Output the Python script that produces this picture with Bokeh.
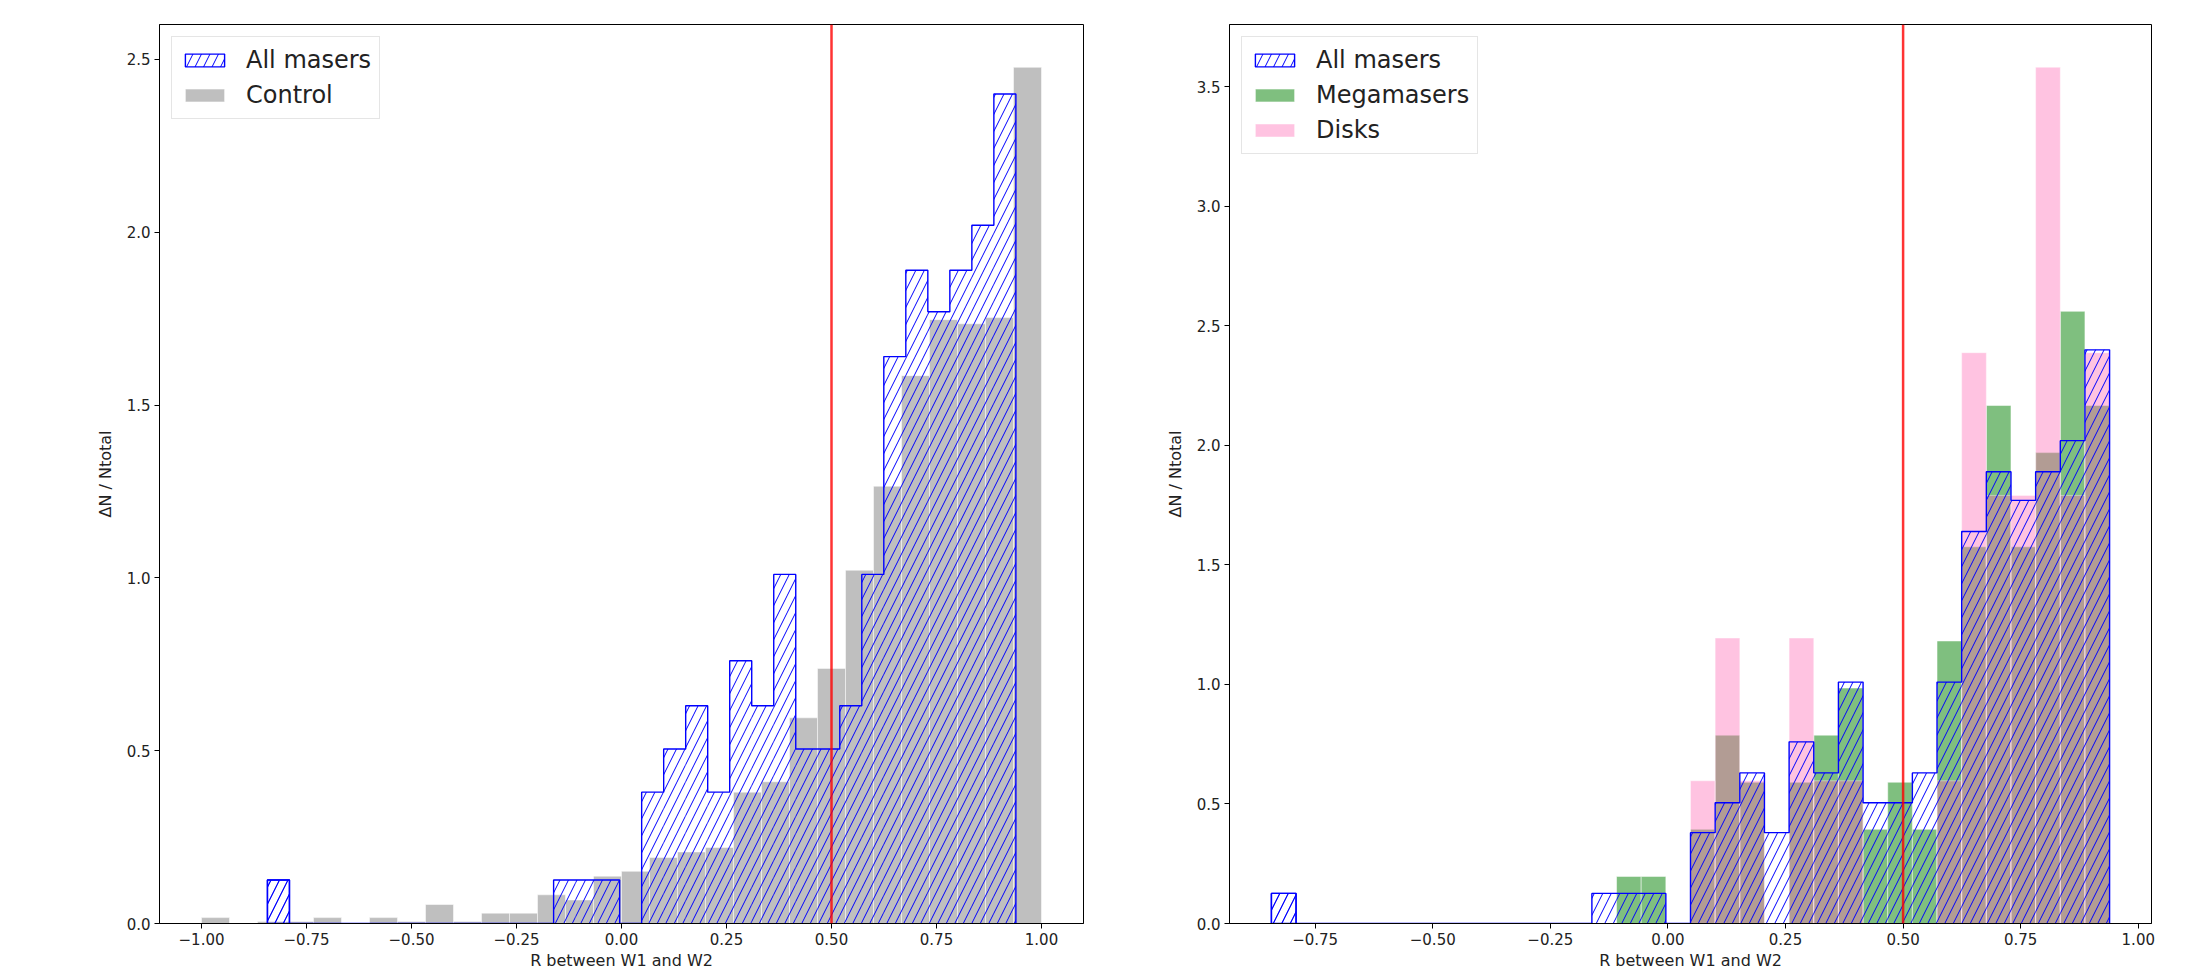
import numpy as np
from bokeh.plotting import figure
from bokeh.models import Range1d, FixedTicker, Span, Legend, LegendItem
from bokeh.layouts import row
from bokeh.embed import file_html
from bokeh.resources import INLINE

# ---------------- data ----------------
# Control sample: 30 equal bins over [-1, 1], normalised density
control_range = (-1.0, 1.0)
control_density = [0.017, 0.0, 0.006, 0.006, 0.017, 0.0, 0.017, 0.006, 0.055, 0.006,
                   0.030, 0.030, 0.083, 0.068, 0.137, 0.151, 0.191, 0.207, 0.220, 0.380,
                   0.410, 0.595, 0.738, 1.022, 1.265, 1.585, 1.747, 1.735, 1.753, 2.477]

# Maser samples: 34 equal bins over [min, max] of the maser sample
maser_range = (-0.843, 0.939)
all_masers_density = [0.126, 0, 0, 0, 0, 0, 0, 0, 0, 0, 0, 0, 0,
                      0.126, 0.126, 0.126, 0,
                      0.38, 0.505, 0.63, 0.38, 0.76, 0.63, 1.01, 0.505, 0.505,
                      0.63, 1.01, 1.64, 1.89, 1.77, 1.89, 2.02, 2.40]
megamasers_density = [0, 0, 0, 0, 0, 0, 0, 0, 0, 0, 0, 0, 0, 0,
                      0.197, 0.197, 0,
                      0.394, 0.788, 0.591, 0, 0.591, 0.788, 0.985, 0.394, 0.591,
                      0.394, 1.182, 1.576, 2.167, 1.576, 1.970, 2.561, 2.167]
disks_density = [0, 0, 0, 0, 0, 0, 0, 0, 0, 0, 0, 0, 0, 0, 0, 0, 0,
                 0.597, 1.194, 0.597, 0, 1.194, 0.597, 0.597, 0, 0,
                 0, 0.597, 2.388, 1.791, 1.791, 3.582, 1.791, 2.388]

threshold = 0.5
x_label = "R between W1 and W2"
y_label = "ΔN / Ntotal"
left_xticks = [-1.0, -0.75, -0.5, -0.25, 0.0, 0.25, 0.5, 0.75, 1.0]
right_xticks = [-0.75, -0.5, -0.25, 0.0, 0.25, 0.5, 0.75, 1.0]
left_yticks = [0.0, 0.5, 1.0, 1.5, 2.0, 2.5]
right_yticks = [0.0, 0.5, 1.0, 1.5, 2.0, 2.5, 3.0, 3.5]

FONT = "DejaVu Sans"
TXT = "#222222"
HATCH = dict(hatch_pattern="/", hatch_color="blue", hatch_scale=17, hatch_weight=1)


def edges_for(rng, n):
    return np.linspace(rng[0], rng[1], n + 1)


def step_outline(edges, h):
    xs = [edges[0]]
    ys = [0.0]
    for i, v in enumerate(h):
        xs += [edges[i], edges[i + 1]]
        ys += [v, v]
    xs.append(edges[-1])
    ys.append(0.0)
    return xs, ys


def fmt(v, d):
    return f"{v:.{d}f}".replace("-", "\u2212")


def make_fig(frame_w, min_left, min_right, xr, ymax, xticks, yticks):
    pad = 0.05 * (xr[1] - xr[0])
    p = figure(frame_width=frame_w, frame_height=899,
               min_border_left=min_left, min_border_right=min_right,
               min_border_top=24, min_border_bottom=53,
               x_range=Range1d(xr[0] - pad, xr[1] + pad),
               y_range=Range1d(0, ymax * 1.05),
               output_backend="svg", toolbar_location=None)
    p.grid.visible = False
    p.background_fill_color = "white"
    p.border_fill_color = "white"
    p.outline_line_color = "black"
    p.outline_line_width = 1
    for ax, ticks, d in ((p.xaxis, xticks, 2), (p.yaxis, yticks, 1)):
        ax.ticker = FixedTicker(ticks=ticks)
        ax.major_label_overrides = {t: fmt(t, d) for t in ticks}
        ax.minor_tick_line_color = None
        ax.major_tick_out = 5
        ax.major_tick_in = 0
        ax.axis_line_color = "black"
        ax.major_tick_line_color = "black"
        ax.major_label_text_font = FONT
        ax.major_label_text_font_size = "15px"
        ax.major_label_text_color = TXT
        ax.axis_label_text_font = FONT
        ax.axis_label_text_font_size = "16px"
        ax.axis_label_text_font_style = "normal"
        ax.axis_label_text_color = TXT
        ax.major_label_standoff = 4
    p.xaxis.axis_label = x_label
    p.yaxis.axis_label = y_label
    p.xaxis.axis_label_standoff = 3
    p.yaxis.axis_label_standoff = 9
    return p


def add_fill(p, edges, dens, color, alpha):
    return p.quad(left=edges[:-1], right=edges[1:], top=dens, bottom=0,
                  fill_color=color, fill_alpha=alpha,
                  line_color="white", line_alpha=alpha, line_width=1)


def add_hatched(p, edges, dens):
    p.quad(left=edges[:-1], right=edges[1:], top=dens, bottom=0,
           fill_color=None, line_color=None, **HATCH)
    xs, ys = step_outline(edges, dens)
    p.line(xs, ys, line_color="blue", line_width=1.4)
    # legend proxy: the isolated first bin (its outline coincides with the step outline)
    return p.quad(left=edges[:1], right=edges[1:2], top=dens[:1], bottom=0,
                  fill_color=None, line_color="blue", line_width=1.4, **HATCH)


def add_legend(p, items):
    leg = Legend(items=items, location="top_left",
                 label_text_font=FONT, label_text_font_size="24px",
                 label_text_color=TXT,
                 glyph_width=49, glyph_height=16, label_height=30,
                 spacing=5, padding=8, margin=12, label_standoff=17,
                 border_line_color="#cccccc", border_line_width=1,
                 background_fill_alpha=0.8)
    p.add_layout(leg)


def add_threshold(p):
    p.add_layout(Span(location=threshold, dimension="height",
                      line_color="red", line_width=2.5, line_alpha=0.8))


maser_edges = edges_for(maser_range, len(all_masers_density))
control_edges = edges_for(control_range, len(control_density))

# ---------------- left panel ----------------
p1 = make_fig(924, 159, 77, control_range, max(control_density), left_xticks, left_yticks)
r_ctrl = add_fill(p1, control_edges, control_density, "gray", 0.5)
r_all1 = add_hatched(p1, maser_edges, all_masers_density)
add_threshold(p1)
add_legend(p1, [LegendItem(label="All masers", renderers=[r_all1]),
                LegendItem(label="Control", renderers=[r_ctrl])])

# ---------------- right panel ----------------
p2 = make_fig(922, 69, 52, maser_range, max(disks_density), right_xticks, right_yticks)
r_mega = add_fill(p2, maser_edges, megamasers_density, "green", 0.5)
r_disk = add_fill(p2, maser_edges, disks_density, "hotpink", 0.4)
r_all2 = add_hatched(p2, maser_edges, all_masers_density)
add_threshold(p2)
add_legend(p2, [LegendItem(label="All masers", renderers=[r_all2]),
                LegendItem(label="Megamasers", renderers=[r_mega]),
                LegendItem(label="Disks", renderers=[r_disk])])

layout = row(p1, p2)
open("out.html", "w").write(file_html(layout, INLINE))
